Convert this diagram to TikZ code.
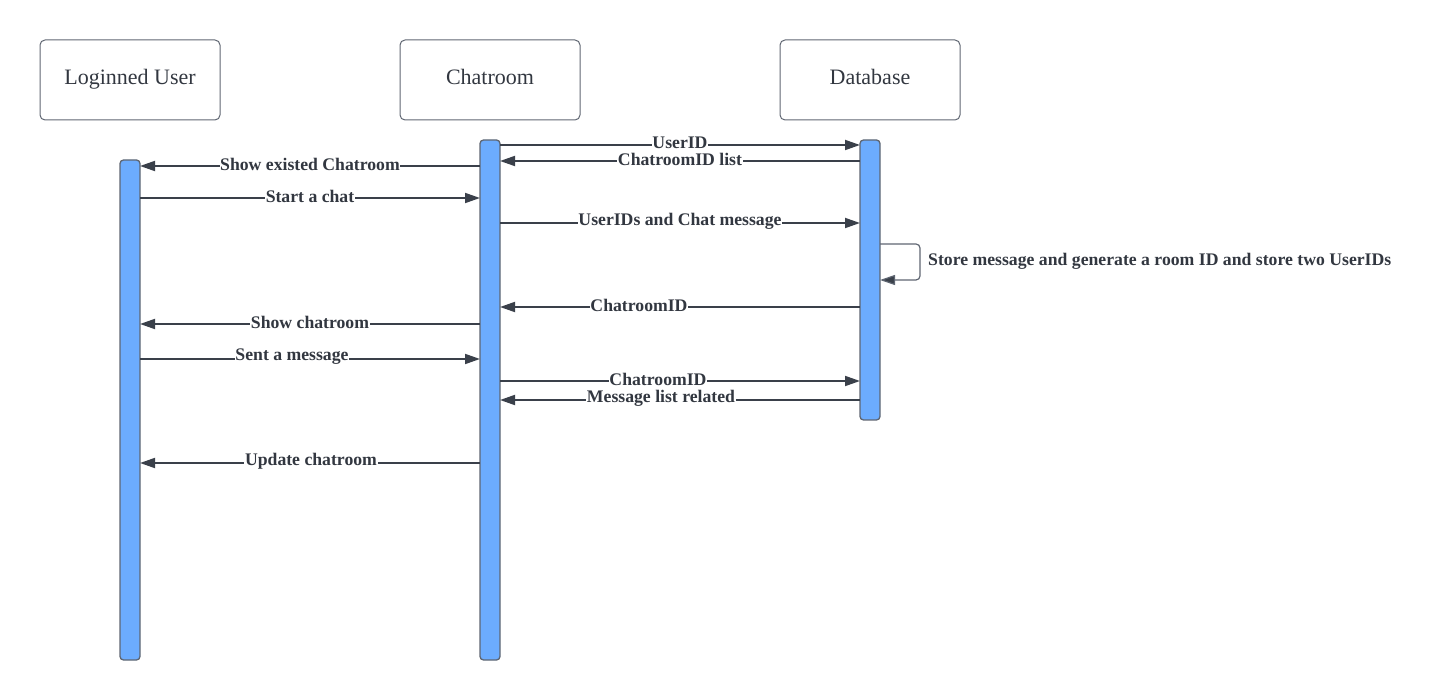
\documentclass[tikz,border=0pt]{standalone}
\usepackage{fontspec}
\setmainfont{Liberation Serif}
\usetikzlibrary{arrows.meta}
\definecolor{barblue}{RGB}{108,172,254}
\definecolor{bargray}{RGB}{95,102,114}
\definecolor{ink}{RGB}{58,64,74}
\definecolor{txt}{RGB}{50,55,64}
\tikzset{
  actor/.style={draw=bargray, line width=1pt, rounded corners=5pt, minimum width=180pt, minimum height=80pt, outer sep=0pt, text=txt, text height=15pt, text depth=5pt, font=\fontsize{22}{25}\selectfont},
  lifebar/.style={draw=bargray, fill=barblue, line width=1.3pt, rounded corners=3.5pt, minimum width=20pt, outer sep=0pt, inner sep=0pt},
  msg/.style={draw=ink, line width=1.8pt, -{Triangle[length=15pt,width=10pt]}},
  selfmsg/.style={draw=bargray, line width=1.2pt, rounded corners=4pt, -{Triangle[length=15pt,width=10pt,fill=ink]}},
  lbl/.style={fill=white, inner sep=0.6pt, text=txt, font=\fontsize{17.7}{20}\selectfont\bfseries},
  note/.style={inner sep=0pt, anchor=west, text=txt, font=\fontsize{17.7}{20}\selectfont\bfseries}
}
\begin{document}
\begin{tikzpicture}[x=1pt,y=-1pt]
\useasboundingbox (0,0) rectangle (1433,700);
% actors
\node[actor] (user) at (130,80) {Loginned User};
\node[actor] (chat) at (490,80) {Chatroom};
\node[actor] (db) at (870,80) {Database};
% activation bars
\node[lifebar, minimum height=500pt] (ubar) at (130,410) {};
\node[lifebar, minimum height=520pt] (cbar) at (490,400) {};
\node[lifebar, minimum height=280pt] (dbar) at (870,280) {};
% messages
\draw[msg] (cbar.east |- 0,145) -- (dbar.west |- 0,145);
\node[lbl] (m1) at (680,143) {UserID};
\draw[msg] (dbar.west |- 0,161) -- (cbar.east |- 0,161);
\node[lbl] (m2) at (680,159) {ChatroomID list};
\draw[msg] (cbar.west |- 0,166) -- (ubar.east |- 0,166);
\node[lbl] (m3) at (310,164) {Show existed Chatroom};
\draw[msg] (ubar.east |- 0,198) -- (cbar.west |- 0,198);
\node[lbl] (m4) at (310,196) {Start a chat};
\draw[msg] (cbar.east |- 0,223) -- (dbar.west |- 0,223);
\node[lbl] (m5) at (680,221) {UserIDs and Chat message};
\coordinate (loopa) at (920,244);
\coordinate (loopb) at (920,280);
\draw[selfmsg] (dbar.east |- 0,244) -- (loopa) -- (loopb) -- (dbar.east |- 0,280);
\node[note] (m6) at (928,261) {Store message and generate a room ID and store two UserIDs};
\draw[msg] (dbar.west |- 0,307) -- (cbar.east |- 0,307);
\node[lbl] (m7) at (639,305) {ChatroomID};
\draw[msg] (cbar.west |- 0,324) -- (ubar.east |- 0,324);
\node[lbl] (m8) at (310,322) {Show chatroom};
\draw[msg] (ubar.east |- 0,359) -- (cbar.west |- 0,359);
\node[lbl] (m9) at (292,357) {Sent a message};
\draw[msg] (cbar.east |- 0,381) -- (dbar.west |- 0,381);
\node[lbl] (m10) at (658,379) {ChatroomID};
\draw[msg] (dbar.west |- 0,400) -- (cbar.east |- 0,400);
\node[lbl] (m11) at (661,398) {Message list related};
\draw[msg] (cbar.west |- 0,463) -- (ubar.east |- 0,463);
\node[lbl] (m12) at (311,461) {Update chatroom};
\end{tikzpicture}
\end{document}
